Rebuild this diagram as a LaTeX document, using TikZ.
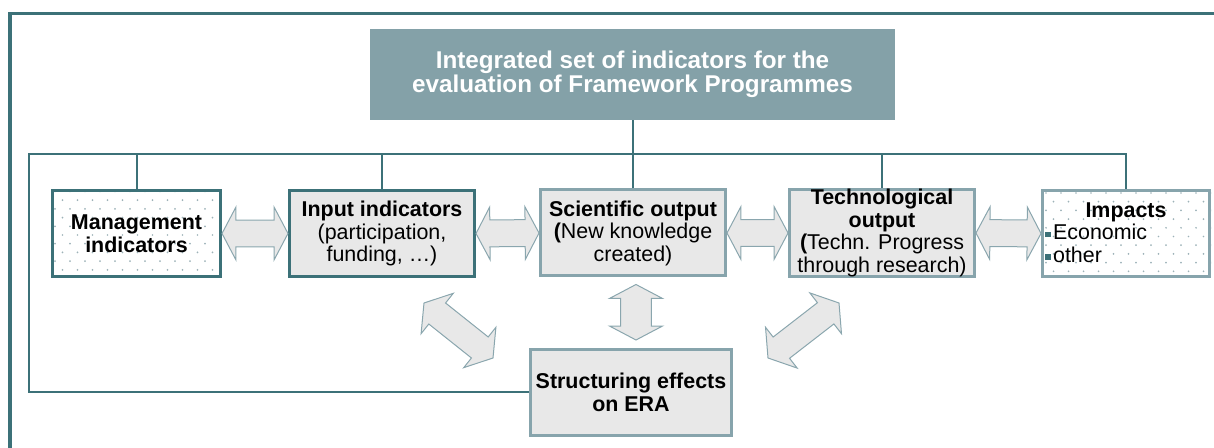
\documentclass[tikz,border=0pt]{standalone}
\usepackage{fontspec}
\setmainfont{Liberation Sans}
\usetikzlibrary{calc,backgrounds}
\newlength\pxl \setlength\pxl{0.02cm}
\definecolor{dteal}{HTML}{3C7178}
\definecolor{lteal}{HTML}{87A4AC}
\definecolor{titlefill}{HTML}{84A1A8}
\definecolor{boxfill}{HTML}{E8E8E8}
\definecolor{dotc}{HTML}{9DB2B8}
\definecolor{arrowline}{HTML}{8AA6AE}
\newcommand\dblarrow[5]{%
  \draw[blockarrow] (#1)
   -- ($(#1)!#3!(#2)!#4!90:(#2)$)
   -- ($(#1)!#3!(#2)!#5!90:(#2)$)
   -- ($(#2)!#3!(#1)!#5!-90:(#1)$)
   -- ($(#2)!#3!(#1)!#4!-90:(#1)$)
   -- (#2)
   -- ($(#2)!#3!(#1)!#4!90:(#1)$)
   -- ($(#2)!#3!(#1)!#5!90:(#1)$)
   -- ($(#1)!#3!(#2)!#5!-90:(#2)$)
   -- ($(#1)!#3!(#2)!#4!-90:(#2)$)
   -- cycle;}
\newcommand\dotgrid[3]{%
  \begin{scope}[on background layer]
   \begin{scope}
    \clip (#1.south west) rectangle (#1.north east);
    \foreach \r in {0,...,11}{\foreach \c in {0,...,12}{
      \fill[dotc] ({#2+15*\c+7.5*mod(\r,2)},{#3+8.7*\r}) circle (0.55pt);}}
   \end{scope}
  \end{scope}}
\newcommand\bul{\textcolor{dteal}{\rule[1.6pt]{3.2pt}{3.2pt}}\hspace{1.2pt}}
\begin{document}
\begin{tikzpicture}[x=0.02cm,y=-0.02cm,
  box/.style={line width=3\pxl, minimum height=86\pxl, inner sep=0pt,
    align=center, font=\fontsize{12.2}{12.8}\selectfont},
  darkbox/.style={box, draw=dteal},
  lightbox/.style={box, draw=lteal},
  bus/.style={draw=dteal, line width=2\pxl},
  blockarrow/.style={draw=arrowline, fill=boxfill, line width=1\pxl, line join=miter},
  txt/.style={inner sep=0pt, font=\fontsize{12.2}{12.8}\selectfont}]
\useasboundingbox (0,0) rectangle (1214,448);
\clip (0,0) rectangle (1214,448);
% outer frame
\draw[dteal, line width=3.3\pxl] (10,13.5) rectangle (1240,480);
% title
\node[fill=titlefill, minimum width=525\pxl, minimum height=91\pxl, inner sep=0pt,
  align=center, text=white, font=\bfseries\fontsize{13.8}{13.8}\selectfont]
  (title) at (632.5,74.5) {Integrated set of indicators for the\\evaluation of Framework Programmes};
% boxes
\node[darkbox, minimum width=168\pxl] (mgmt) at (136.5,233.5)
  {\textbf{Management}\\\textbf{indicators}};
\node[darkbox, fill=boxfill, minimum width=185\pxl] (input) at (382,233.5)
  {\textbf{Input indicators}\\(participation,\\funding, …)};
\node[lightbox, fill=boxfill, minimum width=185\pxl] (sci) at (633,233)
  {\textbf{Scientific output}\\\textbf{(}New knowledge\\created)};
\node[lightbox, fill=boxfill, minimum width=185\pxl] (tech) at (882,233)
  {\textbf{Technological}\\\textbf{output}\\\textbf{(}Techn. Progress\\through research)};
\node[lightbox, minimum width=167\pxl] (impacts) at (1126,233.5) {};
\node[txt, anchor=base] (impT) at (1126,218) {\textbf{Impacts}};
\node[txt, anchor=base west] (impE) at (1045,240) {\bul Economic};
\node[txt, anchor=base west] (impO) at (1045,262.5) {\bul other};
\node[lightbox, fill=boxfill, minimum width=201\pxl] (struct) at (631,392.5)
  {\textbf{Structuring effects}\\\textbf{on ERA}};
% dotted fills
\dotgrid{mgmt}{55}{191.5}
\dotgrid{impacts}{1046}{193}
% bus lines
\coordinate (busL) at (29,154);
\draw[bus] (title.south) -- (title.south |- busL);
\draw[bus] (impacts.north) -- (impacts.north |- busL) -- (busL) |- (struct.west);
\draw[bus] (mgmt.north) -- (mgmt.north |- busL);
\draw[bus] (input.north) -- (input.north |- busL);
\draw[bus] (sci.north) -- (sci.north |- busL);
\draw[bus] (tech.north) -- (tech.north |- busL);
% horizontal block arrows
\dblarrow{mgmt.east}{input.west}{7.9pt}{15pt}{7.65pt}
\dblarrow{input.east}{sci.west}{7.9pt}{15pt}{7.65pt}
\dblarrow{sci.east}{tech.west}{7.9pt}{15pt}{7.65pt}
\dblarrow{tech.east}{impacts.west}{7.9pt}{15pt}{7.65pt}
% block arrows to structuring effects
\coordinate (vA) at ($(sci.south)+(3,7)$);
\coordinate (vB) at ($(struct.north)+(5,-8)$);
\dblarrow{vA}{vB}{7.9pt}{15pt}{8.8pt}
\coordinate (lA) at (424,303);
\coordinate (lB) at (493,358);
\dblarrow{lA}{lB}{9.6pt}{14.7pt}{7.65pt}
\coordinate (rA) at (839,303);
\coordinate (rB) at (768,358);
\dblarrow{rA}{rB}{9.6pt}{14.7pt}{7.65pt}
\end{tikzpicture}
\end{document}
